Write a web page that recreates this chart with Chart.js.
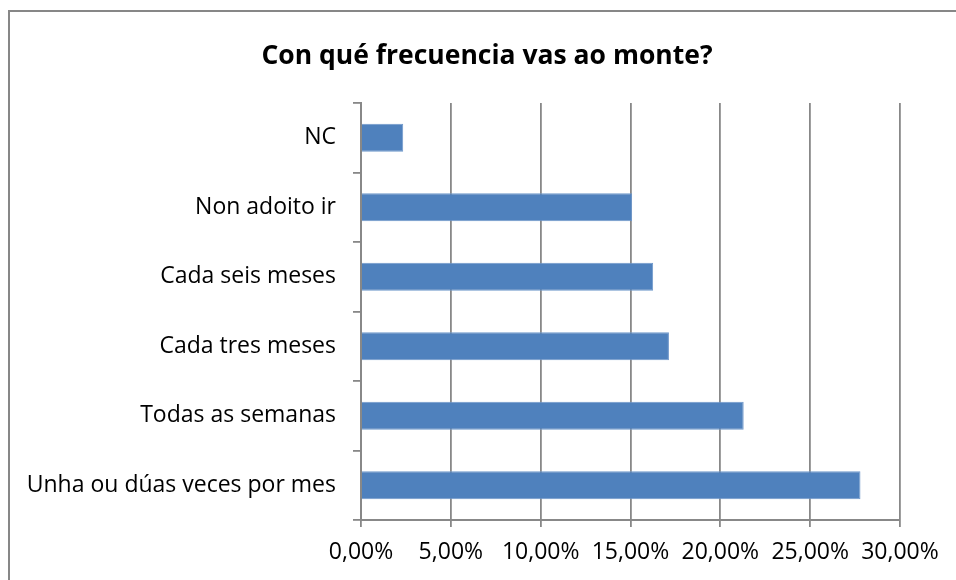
<!DOCTYPE html>
<html>
<head>
<meta charset="utf-8">
<script src="https://cdn.jsdelivr.net/npm/chart.js@4.4.1/dist/chart.umd.min.js"></script>
<style>
  html, body { margin: 0; padding: 0; background: #fff; overflow: hidden; }
  #wrap { position: relative; width: 956px; height: 580px; }
  #marco { position: absolute; left: 8px; top: 10px; width: 2000px; height: 2000px; border: 2px solid #878787; box-sizing: border-box; }
  #grafico { position: absolute; left: 0; top: 0; }
  #titulo {
    position: absolute; left: 0; top: 36px; width: 974px; line-height: 32px;
    text-align: center; font: bold 26.5px 'Open Sans', 'Noto Sans', sans-serif; color: #000;
  }
</style>
</head>
<body>
<div id="wrap">
  <div id="marco"></div>
  <canvas id="grafico" width="956" height="580"></canvas>
  <div id="titulo">Con qué frecuencia vas ao monte?</div>
</div>
<script>
const categorias = [
  'NC',
  'Non adoito ir',
  'Cada seis meses',
  'Cada tres meses',
  'Todas as semanas',
  'Unha ou dúas veces por mes'
];
const porcentaxes = [2.35, 15.09, 16.26, 17.14, 21.3, 27.8];
const ticksX = [0, 5, 10, 15, 20, 25, 30];

const fonte = "'Open Sans', 'Noto Sans', sans-serif";
const gris = '#888888';

new Chart(document.getElementById('grafico'), {
  type: 'bar',
  data: {
    labels: categorias,
    datasets: [{
      label: 'Frecuencia',
      data: porcentaxes,
      backgroundColor: '#4f81bd',
      borderColor: '#6f98cb',
      borderWidth: 1,
      categoryPercentage: 1,
      barPercentage: 0.4
    }]
  },
  options: {
    indexAxis: 'y',
    responsive: false,
    animation: false,
    layout: { padding: { left: 0, right: 56, top: 103, bottom: 0 } },
    plugins: {
      legend: { display: false },
      tooltip: { enabled: false }
    },
    scales: {
      x: {
        min: 0,
        max: 30,
        afterBuildTicks: (s) => { s.ticks = ticksX.map(v => ({ value: v })); },
        afterFit: (s) => { s.height = 60; },
        ticks: {
          color: '#000',
          font: { family: fonte, size: 23 },
          padding: 12,
          maxRotation: 0,
          callback: (v) => v.toFixed(2).replace('.', ',') + '%'
        },
        grid: { color: gris, lineWidth: 1.8, tickLength: 7 },
        border: { color: gris, width: 2 }
      },
      y: {
        afterFit: (s) => { s.width = 361; },
        ticks: {
          color: '#000',
          font: { family: fonte, size: 23 },
          padding: 17
        },
        grid: { color: gris, lineWidth: 1.8, drawOnChartArea: false, tickLength: 8, offset: true },
        border: { color: gris, width: 2 }
      }
    }
  }
});
</script>
</body>
</html>
